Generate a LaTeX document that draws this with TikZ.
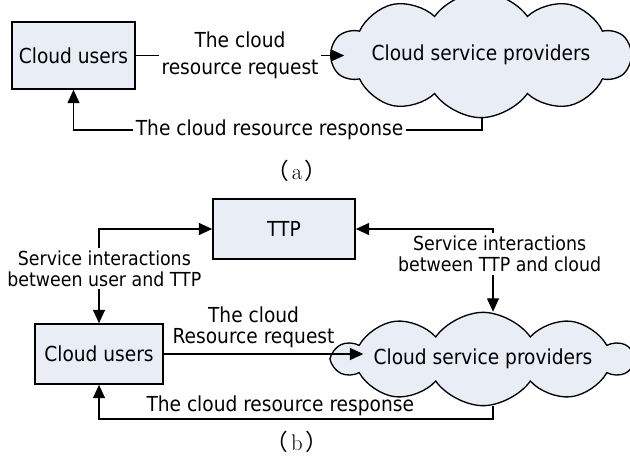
\documentclass[tikz,border=0pt]{standalone}
\usepackage{fontspec}
\setsansfont{DejaVu Sans Condensed}
\newfontfamily\cjk{Noto Sans CJK SC}
\usetikzlibrary{calc}
\usetikzlibrary{arrows.meta}
\usetikzlibrary{shapes.symbols}
\definecolor{boxfill}{RGB}{232,237,246}

\begin{document}
\begin{tikzpicture}[x=0.75pt,y=-0.75pt,
  >={Triangle[length=10pt,width=9pt]},
  txt/.style={font=\sffamily\fontsize{15.5}{16}\selectfont},
  box/.style={txt, draw, line width=1.2pt, fill=boxfill},
  cloudy/.style={txt, cloud, draw, line width=1pt, fill=boxfill, cloud puffs=10, cloud puff arc=110, cloud ignores aspect, inner sep=0pt},
  conn/.style={line width=0.9pt, ->},
  lbl/.style={txt, align=center, inner sep=2pt},
  subcap/.style={font=\fontsize{17}{18}\selectfont}]
\useasboundingbox (0,0) rectangle (630,456);

\node[box, minimum width=92.25pt, minimum height=50.25pt] (usersa) at (73.5,55.5) {Cloud users};
\node[cloudy, minimum width=212pt, minimum height=94pt] (cspa) at (481,55) {Cloud service providers};
\node[subcap] (capa) at (297,171) {{\cjk （}\hspace{2pt}a\hspace{2pt}{\cjk ）}};
\coordinate (respa) at (482,130);

\draw[conn] (usersa.east) -- node[lbl, fill=white, font=\sffamily\fontsize{15.5}{20}\selectfont] {The cloud\\resource request} ($(usersa.east -| cspa.west)+(14,0)$);
\draw[conn] (respa |- cspa.south) -- (respa) -| node[lbl, fill=white, pos=0.26] {The cloud resource response} (usersa.south);

\node[box, minimum width=106.5pt, minimum height=45pt] (ttp) at (284,229) {TTP};
\node[box, minimum width=96pt, minimum height=45pt] (usersb) at (99,354) {Cloud users};
\node[cloudy, minimum width=216pt, minimum height=70pt] (cspb) at (483,359) {Cloud service providers};
\node[subcap] (capb) at (297,442) {{\cjk （}\hspace{2pt}b\hspace{2pt}{\cjk ）}};
\coordinate (respb) at (493,419);

\draw[conn, <->] (ttp.west) -| node[lbl, fill=white, pos=0.71, xshift=4pt, font=\sffamily\fontsize{14.5}{16}\selectfont] {Service interactions\\between user and TTP} (usersb.north);
\draw[conn, <->] (ttp.east) -| node[lbl, fill=white, pos=0.65, xshift=5pt, font=\sffamily\fontsize{14.5}{16}\selectfont] {Service interactions\\between TTP and cloud} (respb |- cspb.north);
\draw[conn] (usersb.east) -- node[lbl, above, pos=0.45, yshift=2pt] {The cloud\\Resource request} ($(usersb.east -| cspb.west)+(34,0)$);
\draw[conn] (respb |- cspb.south) -- (respb) -| node[lbl, above, pos=0.27] {The cloud resource response} (usersb.south);
\end{tikzpicture}
\end{document}
